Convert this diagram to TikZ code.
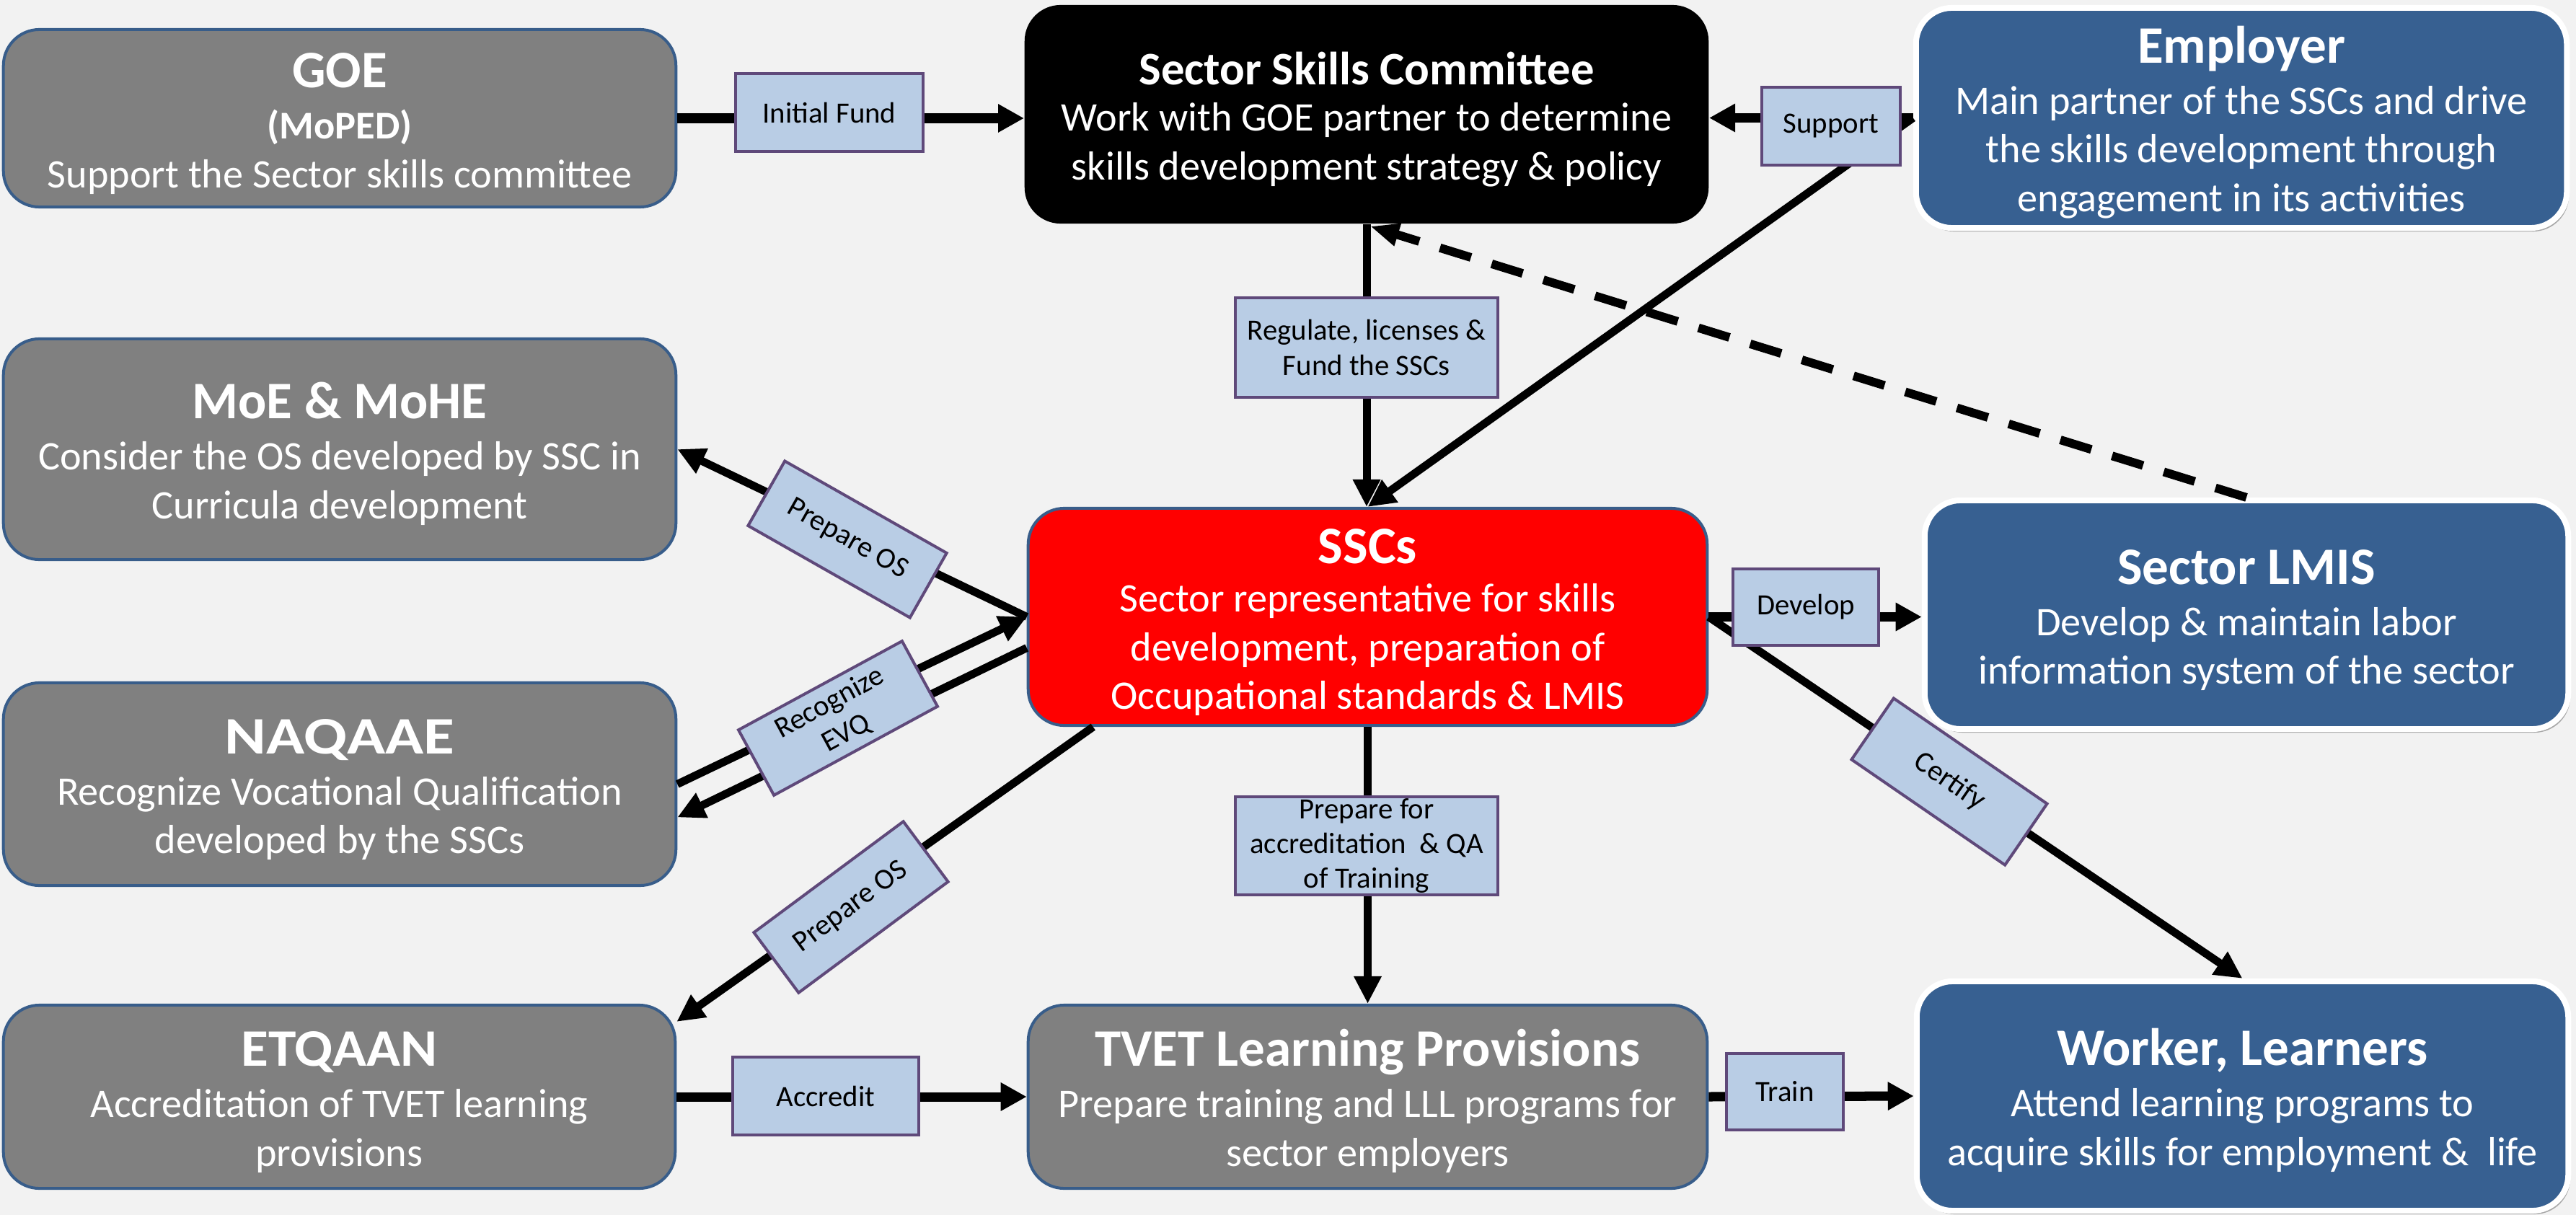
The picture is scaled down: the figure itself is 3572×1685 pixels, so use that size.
\documentclass[tikz,border=0pt]{standalone}
\usepackage{fontspec}
\setmainfont{Carlito}
\usetikzlibrary{arrows.meta,calc,shadows}
\definecolor{bgc}{RGB}{242,242,242}
\definecolor{boxgray}{RGB}{128,128,128}
\definecolor{boxblue}{RGB}{55,96,145}
\definecolor{bordblue}{RGB}{56,93,138}
\definecolor{labfill}{RGB}{185,205,229}
\definecolor{labdraw}{RGB}{95,73,122}
\newcommand\ttlfont{\fontsize{20.8pt}{24pt}\selectfont\bfseries}
\newcommand\comfont{\fontsize{18.4pt}{22pt}\selectfont\bfseries}
\newcommand\subfont{\fontsize{15.5pt}{18.8pt}\selectfont\bfseries}
\newcommand\bodyfont{\fontsize{16pt}{19.2pt}\selectfont}
\newcommand\labfont{\fontsize{11.6pt}{13.7pt}\selectfont}
\newcommand\ttl[1]{{\ttlfont\rule{0pt}{18pt}#1}}
\tikzset{
  box/.style={rounded corners=0.5cm, align=center, text=white, font=\bodyfont, inner sep=0pt},
  sz/.style 2 args={minimum width=#1cm, minimum height=#2cm},
  graybox/.style={box, fill=boxgray, draw=bordblue, line width=0.04cm},
  redbox/.style={box, fill=red, draw=bordblue, line width=0.04cm},
  blackbox/.style={box, fill=black},
  bluebox/.style={box, fill=boxblue, draw=white, line width=0.08cm,
     drop shadow={shadow xshift=0.03cm, shadow yshift=-0.05cm, opacity=0.3, fill=black}},
  lab/.style={fill=labfill, draw=labdraw, line width=0.04cm, font=\labfont, align=center, inner sep=0pt, text=black},
  conn/.style={line width=0.11cm, -{Triangle[length=0.38cm,width=0.36cm]}},
  hconn/.style={line width=0.13cm, -{Triangle[length=0.36cm,width=0.37cm]}},
  dconn/.style={line width=0.12cm, dash pattern=on 0.45cm off 0.3cm, -{Triangle[length=0.4cm,width=0.3cm]}},
}
\begin{document}
\begin{tikzpicture}[x=0.01cm, y=-0.01cm]
\fill[bgc] (0,0) rectangle (3572,1685);
\useasboundingbox (0,0) rectangle (3572,1685);

% main boxes
\node[graybox, sz={9.32}{2.46}] (goe) at (471,164)
  {\ttl{GOE}\\[1pt]{\subfont (MoPED)}\\Support the Sector skills committee};
\node[blackbox, sz={9.48}{3.03}] (sscom) at (1895,158.5)
  {{\comfont\rule{0pt}{17pt}Sector Skills Committee}\\[-1pt]Work with GOE partner to determine\\skills development strategy \& policy};
\node[bluebox, sz={9.02}{3.05}] (emp) at (3108,163.5)
  {\ttl{Employer}\\[1pt]Main partner of the SSCs and drive\\the skills development through\\engagement in its activities};
\node[graybox, sz={9.32}{3.06}] (moe) at (471,623)
  {\ttl{MoE \& MoHE}\\[1pt]Consider the OS developed by SSC in\\Curricula development};
\node[redbox, sz={9.41}{3.01}] (ssc) at (1896.5,855.5)
  {\ttl{SSCs}\\[0pt]Sector representative for skills\\development, preparation of\\Occupational standards \& LMIS};
\node[bluebox, sz={8.92}{3.17}] (lmis) at (3115,852.5)
  {\ttl{Sector LMIS}\\[1pt]Develop \& maintain labor\\information system of the sector};
\node[graybox, sz={9.32}{2.81}] (naq) at (471,1087.5)
  {\ttl{\scalebox{1.2}[1]{NAQAAE}}\\[1pt]Recognize Vocational Qualification\\developed by the SSCs};
\node[graybox, sz={9.31}{2.54}] (etq) at (470.5,1521)
  {\ttl{\scalebox{1.06}[1]{ETQAAN}}\\[1pt]Accreditation of TVET learning\\provisions};
\node[graybox, sz={9.41}{2.54}] (tvet) at (1896.5,1521)
  {\ttl{TVET Learning Provisions}\\[1pt]Prepare training and LLL programs for\\sector employers};
\node[bluebox, sz={9.03}{3.18}] (wrk) at (3109.5,1520)
  {\ttl{Worker, Learners}\\[1pt]Attend learning programs to\\acquire skills for employment \&\ \ life};

% connectors
\draw[hconn] (goe.east) -- (goe.east -| sscom.west);
\draw[hconn] (emp.west) -- (emp.west -| sscom.east);
\draw[conn] (emp.west) -- (ssc.north);
\draw[conn] (sscom.south) -- (sscom.south |- ssc.north);
\draw[dconn] (lmis.north) -- ($(sscom.south)+(5,3)$);
\draw[conn] (ssc.west) -- (moe.east);
\draw[conn] (naq.east) -- (ssc.west);
\draw[conn] ($(ssc.west)+(0,43)$) -- ($(naq.east)+(0,46)$);
\draw[conn] ($(ssc.south west)+(92,0)$) -- ($(etq.north east)+(0,25)$);
\draw[hconn] (ssc.east) -- (ssc.east -| lmis.west);
\draw[conn] (ssc.east) -- (wrk.north);
\draw[conn] (ssc.south) -- (tvet.north);
\draw[hconn] (etq.east) -- (tvet.west);
\draw[hconn] (tvet.east) -- (wrk.west);

% labels
\node[lab, sz={2.59}{1.07}] (lInit) at (1150,156) {Initial Fund};
\node[lab, sz={1.92}{1.07}] (lSup) at (2539,175) {Support};
\node[lab, sz={3.64}{1.37}] (lReg) at (1895,482) {Regulate, licenses \&\\Fund the SSCs};
\node[lab, sz={2.01}{1.06}] (lDev) at (2504,842) {Develop};
\node[lab, sz={3.64}{1.36}] (lPrep) at (1895,1173) {Prepare for\\accreditation \ \& QA\\of Training};
\node[lab, sz={2.58}{1.07}] (lAcc) at (1145,1520) {Accredit};
\node[lab, sz={1.62}{1.06}] (lTrain) at (2475,1514) {Train};
\node[lab, sz={2.58}{1.03}, rotate=-29.6] (lOSa) at (1175,748) {Prepare OS};
\node[lab, sz={2.58}{1.03}, rotate=28.5] (lEVQ) at (1162,996) {Recognize\\EVQ};
\node[lab, sz={2.58}{1.04}, rotate=36.6] (lOSb) at (1180,1258) {Prepare OS};
\node[lab, sz={2.58}{1.03}, rotate=-34.5] (lCert) at (2703,1084) {Certify};
\end{tikzpicture}
\end{document}
